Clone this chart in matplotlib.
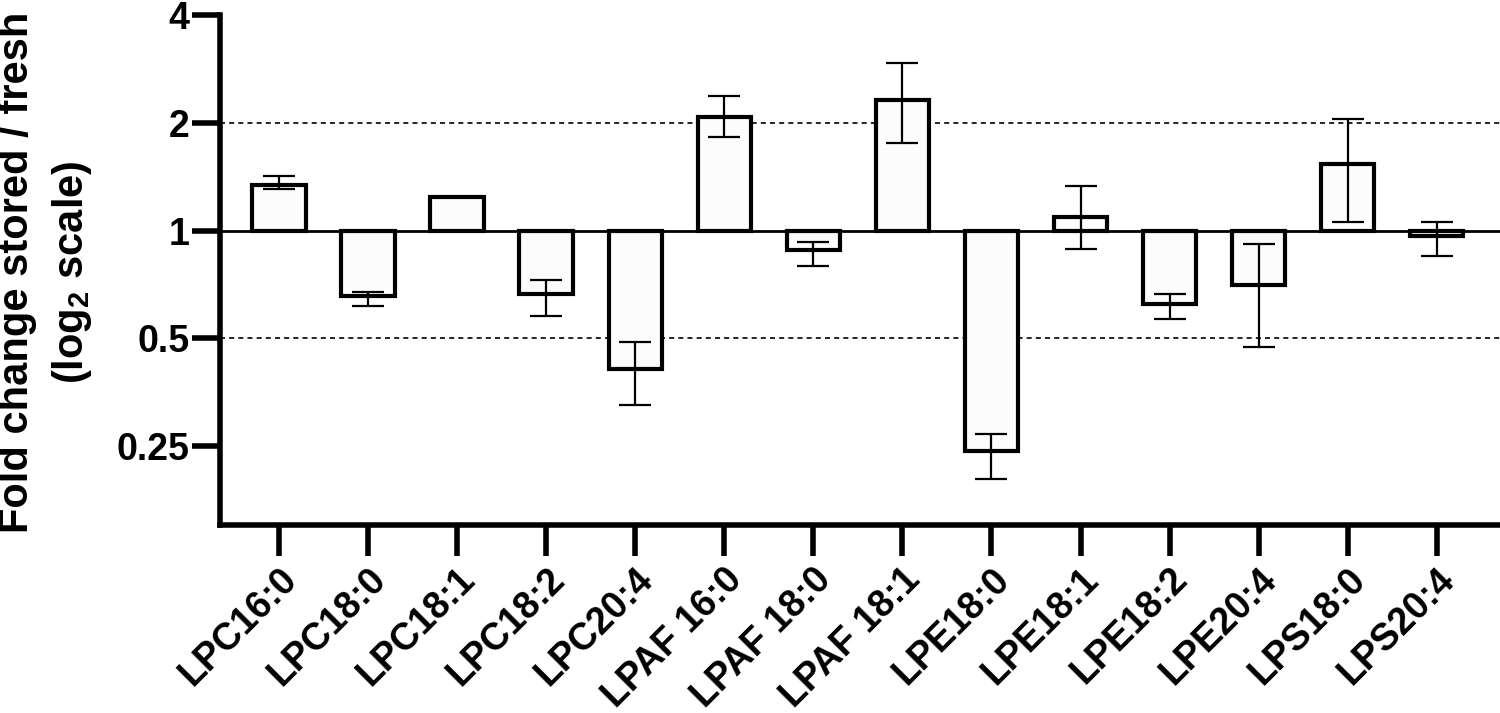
import numpy as np
import matplotlib
matplotlib.use("Agg")
import matplotlib.pyplot as plt

plt.rcParams['font.family'] = ['Liberation Sans', 'DejaVu Sans']
plt.rcParams['font.weight'] = 'bold'
plt.rcParams['mathtext.fontset'] = 'custom'
plt.rcParams['mathtext.rm'] = 'Liberation Sans:bold'

# data (fold change, log2 axis)
categories = ['LPC16:0', 'LPC18:0', 'LPC18:1', 'LPC18:2', 'LPC20:4',
              'LPAF 16:0', 'LPAF 18:0', 'LPAF 18:1',
              'LPE18:0', 'LPE18:1', 'LPE18:2', 'LPE20:4',
              'LPS18:0', 'LPS20:4']
values = [1.34, 0.655, 1.245, 0.665, 0.411, 2.07, 0.883, 2.31,
          0.242, 1.09, 0.623, 0.705, 1.53, 0.968]
err_upper = [1.42, 0.672, 1.245, 0.729, 0.49, 2.38, 0.932, 2.93,
             0.271, 1.33, 0.666, 0.916, 2.05, 1.06]
err_lower = [1.31, 0.616, 1.245, 0.578, 0.327, 1.83, 0.797, 1.76,
             0.203, 0.886, 0.565, 0.474, 1.055, 0.851]
yticks = [0.25, 0.5, 1, 2, 4]
ytick_labels = ['0.25', '0.5', '1', '2', '4']
ref_lines = [0.5, 2]

vals = np.array(values)
x = np.arange(len(categories))
yerr = np.vstack([vals - np.array(err_lower), np.array(err_upper) - vals])

fig = plt.figure(figsize=(15, 7.13), dpi=100)
ax = fig.add_axes([0.1467, 0.2637, 0.8533, 0.7153])

ax.set_yscale('log', base=2)
ax.set_ylim(2 ** -2.73, 4)
ax.set_xlim(-0.662, 13.71)

for r in ref_lines:
    ax.axhline(r, color='black', lw=1.2, ls=(0, (3, 2.5)), zorder=1)

ax.bar(x, vals - 1, bottom=1, width=0.6, color='#fcfcfc',
       edgecolor='black', linewidth=3, zorder=2)
ax.errorbar(x, vals, yerr=yerr, fmt='none', ecolor='black',
            elinewidth=1.6, capsize=11.5, capthick=1.6, zorder=3)
ax.axhline(1, color='black', lw=2, zorder=4)

ax.set_yticks(yticks)
ax.set_yticklabels(ytick_labels)
ax.yaxis.set_minor_locator(matplotlib.ticker.NullLocator())
ax.set_xticks(x)
ax.set_xticklabels(categories, rotation=45, ha='right', rotation_mode='anchor')

for s in ['top', 'right']:
    ax.spines[s].set_visible(False)
for s in ['left', 'bottom']:
    ax.spines[s].set_linewidth(4)
ax.tick_params(axis='y', width=4, length=20, labelsize=27, pad=2)
ax.tick_params(axis='x', width=4, length=22, labelsize=27, pad=4)

fig.text(17 / 1500, 1 - 272 / 713, 'Fold change stored / fresh', rotation=90,
         ha='center', va='center', fontsize=30, fontweight='bold')
fig.text(72 / 1500, 1 - 272 / 713, r'(log$\mathregular{_2}$ scale)', rotation=90,
         ha='center', va='center', fontsize=30, fontweight='bold')

fig.savefig('out.png', dpi=100)
